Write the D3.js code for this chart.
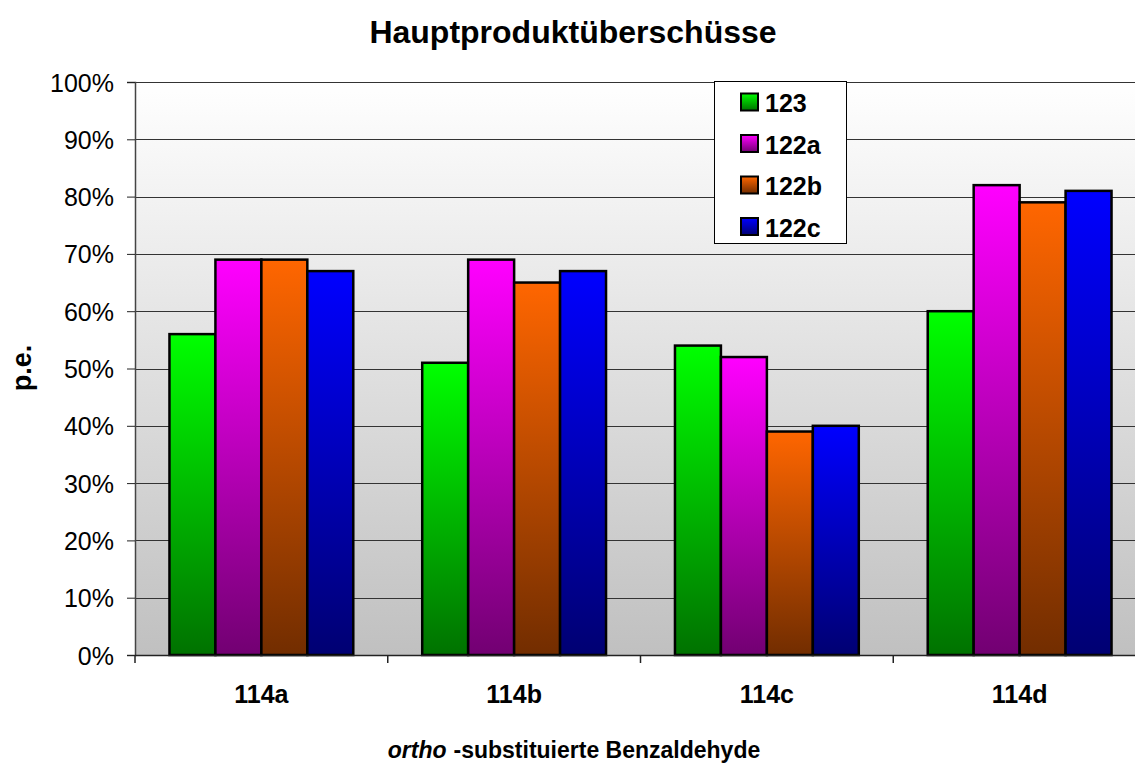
<!DOCTYPE html>
<html>
<head>
<meta charset="utf-8">
<script src="https://cdn.jsdelivr.net/npm/d3@7"></script>
<style>
  html, body { margin: 0; padding: 0; background: #fff; }
  svg { display: block; font-family: "Liberation Sans", Arial, sans-serif; }
</style>
</head>
<body>
<svg id="chart" width="1135" height="765"></svg>
<script>
// Categories and series
const categories = ["114a", "114b", "114c", "114d"];
const seriesNames = ["123", "122a", "122b", "122c"];
const values123  = [56, 51, 54, 60];
const values122a = [69, 69, 52, 82];
const values122b = [69, 65, 39, 79];
const values122c = [67, 67, 40, 81];
const yTicks = [0, 10, 20, 30, 40, 50, 60, 70, 80, 90, 100];

const seriesValues = [values123, values122a, values122b, values122c];
const colorsTop = ["#00ff00", "#ff00ff", "#ff6600", "#0000ff"];
const colorsBottom = ["#007200", "#720072", "#722d00", "#000072"];

const svg = d3.select("#chart");
const margin = { left: 135, top: 82, bottom: 655 };
const plotRight = 135 + 4 * 252.75;

const x = d3.scaleBand().domain(categories).range([margin.left, plotRight]).paddingInner(0).paddingOuter(0);
const y = d3.scaleLinear().domain([0, 100]).range([margin.bottom, margin.top]);

const defs = svg.append("defs");
const bg = defs.append("linearGradient").attr("id", "bg").attr("x1", 0).attr("y1", 0).attr("x2", 0).attr("y2", 1);
bg.append("stop").attr("offset", "0%").attr("stop-color", "#ffffff");
bg.append("stop").attr("offset", "100%").attr("stop-color", "#c0c0c0");

seriesNames.forEach((s, i) => {
  const g = defs.append("linearGradient").attr("id", "g" + i).attr("x1", 0).attr("y1", 0).attr("x2", 0).attr("y2", 1);
  g.append("stop").attr("offset", "0%").attr("stop-color", colorsTop[i]);
  g.append("stop").attr("offset", "100%").attr("stop-color", colorsBottom[i]);
});

// Plot background
svg.append("rect")
  .attr("x", margin.left).attr("y", margin.top)
  .attr("width", plotRight - margin.left).attr("height", margin.bottom - margin.top)
  .attr("fill", "url(#bg)");

// Gridlines
svg.append("g").selectAll("line").data(yTicks.filter(t => t > 0)).join("line")
  .attr("x1", margin.left).attr("x2", plotRight)
  .attr("y1", d => Math.round(y(d)) + 0.5).attr("y2", d => Math.round(y(d)) + 0.5)
  .attr("stroke", "#333").attr("stroke-width", 1);

// Bars: four bars per category, gap of 1.5 bar widths shared by both sides
const barW = x.bandwidth() / 5.5;
const groupOffset = barW * 0.75;

seriesNames.forEach((s, i) => {
  svg.append("g").selectAll("rect").data(categories).join("rect")
    .attr("x", (d) => x(d) + groupOffset + i * barW)
    .attr("y", (d, j) => y(seriesValues[i][j]))
    .attr("width", barW)
    .attr("height", (d, j) => y(0) - y(seriesValues[i][j]))
    .attr("fill", "url(#g" + i + ")")
    .attr("stroke", "#000").attr("stroke-width", 2.5);
});

// Y axis
const yAxis = d3.axisLeft(y).tickValues(yTicks).tickFormat(d => d + "%").tickSize(8).tickPadding(13);
const yg = svg.append("g").attr("transform", `translate(${margin.left},0)`).call(yAxis);
yg.select(".domain").attr("stroke", "#444").attr("stroke-width", 1.5);
yg.selectAll(".tick line").attr("stroke", "#222");
yg.selectAll("text").attr("font-size", 25).attr("fill", "#000").attr("dy", "0.36em")
  .attr("font-family", "Liberation Sans, Arial, sans-serif");

// X axis
svg.append("line").attr("x1", margin.left).attr("x2", plotRight)
  .attr("y1", margin.bottom + 0.5).attr("y2", margin.bottom + 0.5).attr("stroke", "#222").attr("stroke-width", 1.5);
svg.append("g").selectAll("line").data(categories).join("line")
  .attr("x1", d => x(d)).attr("x2", d => x(d))
  .attr("y1", margin.bottom).attr("y2", margin.bottom + 8)
  .attr("stroke", "#222").attr("stroke-width", 1.5);
svg.append("g").selectAll("text").data(categories).join("text")
  .attr("x", d => x(d) + x.bandwidth() / 2).attr("y", 703)
  .attr("text-anchor", "middle").attr("font-size", 25).attr("font-weight", "bold")
  .text(d => d);

// Title
svg.append("text").attr("x", 573).attr("y", 43).attr("text-anchor", "middle")
  .attr("font-size", 32).attr("font-weight", "bold").text("Hauptproduktüberschüsse");

// Y axis title
svg.append("text").attr("transform", "translate(31,368) rotate(-90)")
  .attr("text-anchor", "middle").attr("font-size", 27).attr("font-weight", "bold").text("p.e.");

// X axis title
const xt = svg.append("text").attr("x", 574).attr("y", 758).attr("text-anchor", "middle")
  .attr("font-size", 23).attr("font-weight", "bold");
xt.append("tspan").attr("font-style", "italic").text("ortho");
xt.append("tspan").attr("dx", 7).text("-substituierte Benzaldehyde");

// Legend
const lg = svg.append("g");
lg.append("rect").attr("x", 714.5).attr("y", 81.5).attr("width", 132).attr("height", 162)
  .attr("fill", "#fff").attr("stroke", "#000").attr("stroke-width", 1);
seriesNames.forEach((s, i) => {
  const cy = 102 + i * 41.5;
  lg.append("rect").attr("x", 741).attr("y", cy - 8.5).attr("width", 17).attr("height", 17)
    .attr("fill", "url(#g" + i + ")").attr("stroke", "#000").attr("stroke-width", 2);
  lg.append("text").attr("x", 765).attr("y", cy + 10).attr("font-size", 25)
    .attr("font-weight", "bold").text(s);
});
</script>
</body>
</html>
